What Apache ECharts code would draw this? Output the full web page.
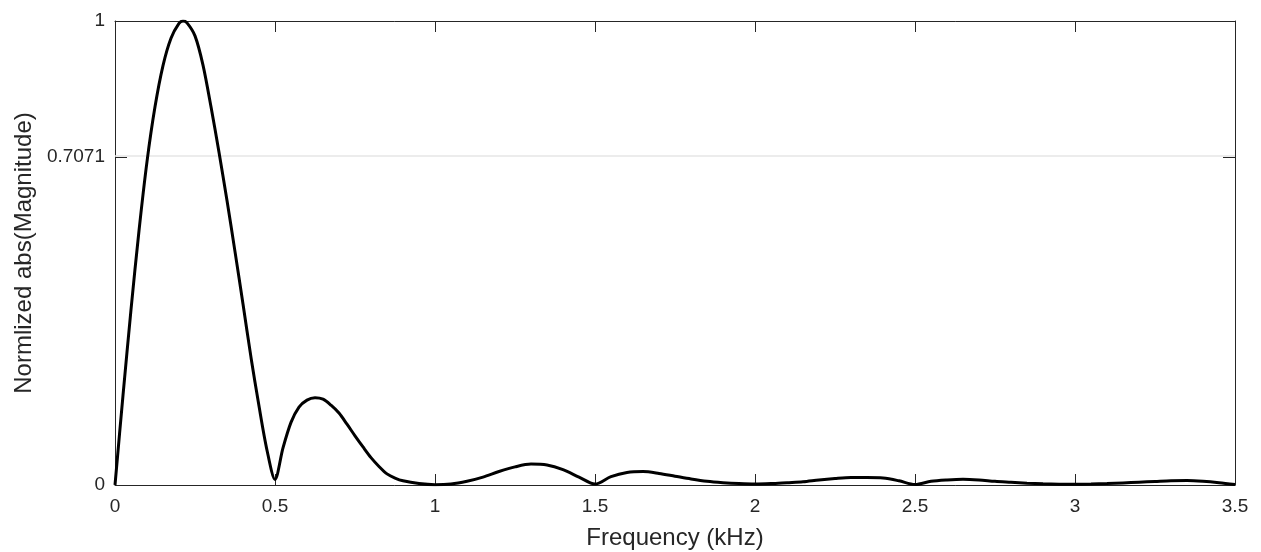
<!DOCTYPE html>
<html>
<head>
<meta charset="utf-8">
<script src="https://cdn.jsdelivr.net/npm/echarts@6/dist/echarts.min.js"></script>
<style>
  html, body { margin: 0; padding: 0; background: #fff; }
  #chart { width: 1261px; height: 552px; }
</style>
</head>
<body>
<div id="chart"></div>
<script>
// frequency (kHz) and normalized magnitude
const freqKHz = [
  0, 0.025, 0.05, 0.075, 0.1, 0.125, 0.15, 0.175, 0.2, 0.2125, 0.225,
  0.25, 0.275, 0.3, 0.325, 0.35, 0.375, 0.4, 0.425, 0.45, 0.475, 0.5,
  0.525, 0.55, 0.575, 0.6, 0.625, 0.65, 0.675, 0.7, 0.725, 0.75, 0.775, 0.8,
  0.825, 0.85, 0.875, 0.9, 0.95, 1.0, 1.05, 1.1, 1.15, 1.2, 1.25, 1.3, 1.35,
  1.4, 1.45, 1.5, 1.55, 1.6, 1.65, 1.7, 1.75, 1.8, 1.85, 1.9, 1.95, 2.0,
  2.05, 2.1, 2.15, 2.2, 2.25, 2.3, 2.35, 2.4, 2.45, 2.5, 2.55, 2.6, 2.65,
  2.7, 2.75, 2.8, 2.85, 2.9, 2.95, 3.0, 3.05, 3.1, 3.15, 3.2, 3.25, 3.3,
  3.35, 3.4, 3.45, 3.5
]
const magnitude = [
  0, 0.193, 0.378, 0.548, 0.697, 0.815, 0.904, 0.963, 0.995, 1.0, 0.996,
  0.968, 0.905, 0.815, 0.717, 0.613, 0.503, 0.39, 0.275, 0.17, 0.075, 0.012,
  0.08, 0.135, 0.168, 0.183, 0.188, 0.185, 0.172, 0.155, 0.131, 0.106, 0.082, 0.059,
  0.040, 0.024, 0.015, 0.009, 0.003, 0.0005, 0.002, 0.008, 0.017, 0.029, 0.039, 0.045, 0.043,
  0.033, 0.017, 0.002, 0.018, 0.027, 0.029, 0.025, 0.019, 0.013, 0.008, 0.005, 0.003, 0.002,
  0.003, 0.005, 0.007, 0.011, 0.014, 0.016, 0.016, 0.015, 0.009, 0.001, 0.008, 0.011, 0.0125,
  0.011, 0.008, 0.006, 0.004, 0.0025, 0.0017, 0.0015, 0.002, 0.003, 0.0045, 0.006, 0.0075, 0.009,
  0.0095, 0.008, 0.005, 0.001
]
const yTicks = [0, 0.7071, 1]
const gridLineY = 0.7071

const axisColor = '#262626'
const chart = echarts.init(document.getElementById('chart'))

const points = freqKHz.map((f, i) => [f, magnitude[i]])

const baseX = {
  type: 'value',
  min: 0,
  max: 3.5,
  interval: 0.5,
  axisLine: { show: true, onZero: false, lineStyle: { color: axisColor, width: 1 } },
  axisTick: { show: true, inside: true, length: 11, lineStyle: { color: axisColor } },
  splitLine: { show: false }
}
const baseY = {
  type: 'value',
  min: 0,
  max: 1,
  axisLine: { show: true, onZero: false, lineStyle: { color: axisColor, width: 1 } },
  axisTick: { show: true, inside: true, length: 12, customValues: yTicks, lineStyle: { color: axisColor } },
  splitLine: { show: false }
}

chart.setOption({
  backgroundColor: '#fff',
  animation: false,
  grid: { left: 115, right: 26, top: 21, bottom: 67, outerBoundsMode: 'none' },
  xAxis: [
    {
      ...baseX,
      position: 'bottom',
      name: 'Frequency (kHz)',
      nameLocation: 'middle',
      nameGap: 41,
      nameTextStyle: { color: axisColor, fontSize: 24, fontFamily: 'Liberation Sans' },
      axisLabel: { color: axisColor, fontSize: 19, margin: 12, fontFamily: 'Liberation Sans' }
    },
    {
      ...baseX,
      position: 'top',
      axisLabel: { show: false }
    }
  ],
  yAxis: [
    {
      ...baseY,
      position: 'left',
      name: 'Normlized abs(Magnitude)',
      nameLocation: 'middle',
      nameGap: 78,
      nameTextStyle: { color: axisColor, fontSize: 24, fontFamily: 'Liberation Sans' },
      axisLabel: { color: axisColor, fontSize: 19, margin: 10, customValues: yTicks, fontFamily: 'Liberation Sans' }
    },
    {
      ...baseY,
      position: 'right',
      axisLabel: { show: false }
    }
  ],
  series: [{
    type: 'line',
    data: points,
    showSymbol: false,
    smooth: 0.3,
    lineStyle: { color: '#000', width: 3 },
    markLine: {
      silent: true,
      symbol: 'none',
      z: 1,
      label: { show: false },
      lineStyle: { color: '#e6e6e6', width: 1.5, type: 'solid' },
      data: [{ yAxis: gridLineY }]
    }
  }]
})
</script>
</body>
</html>
